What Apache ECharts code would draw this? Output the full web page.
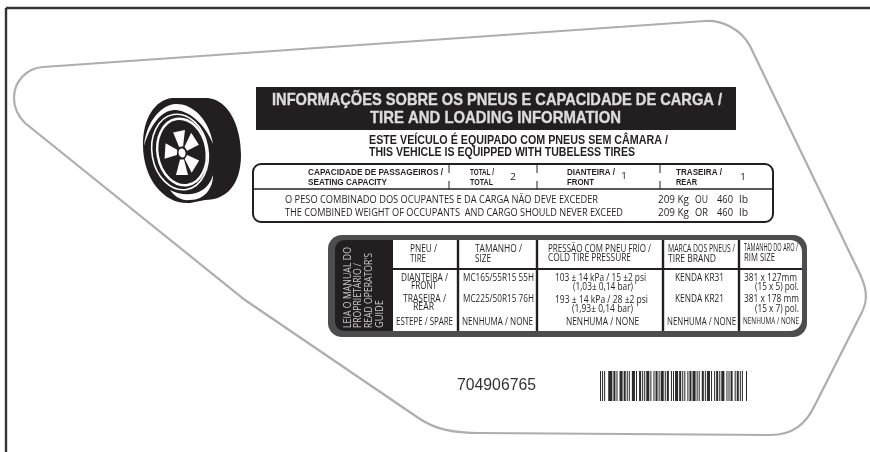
<!DOCTYPE html>
<html><head><meta charset="utf-8">
<style>html,body{margin:0;padding:0;background:#fff}#c{width:870px;height:452px}</style>
<script src="https://cdn.jsdelivr.net/npm/echarts@6/dist/echarts.min.js"></script>
</head><body><div id="c"></div>
<script>
// ---- label content ----
const titleLines = ['INFORMAÇÕES SOBRE OS PNEUS E CAPACIDADE DE CARGA /', 'TIRE AND LOADING INFORMATION'];
const subtitleLines = ['ESTE VEÍCULO É EQUIPADO COM PNEUS SEM CÂMARA /', 'THIS VEHICLE IS EQUIPPED WITH TUBELESS TIRES'];
const capacityHeads = ['CAPACIDADE DE PASSAGEIROS /', 'SEATING CAPACITY', 'TOTAL /', 'TOTAL', 'DIANTEIRA /', 'FRONT', 'TRASEIRA /', 'REAR'];
const capacityValues = ['2', '1', '1'];
const weightLines = ['O PESO COMBINADO DOS OCUPANTES E DA CARGA NÃO DEVE EXCEDER', 'THE COMBINED WEIGHT OF OCCUPANTS  AND CARGO SHOULD NEVER EXCEED'];
const weightKg = ['209 Kg', '209 Kg'];
const weightJoin = ['OU', 'OR'];
const weightLb = ['460', '460'];
const weightUnit = ['lb', 'lb'];
const sideLines = ['LEIA O MANUAL DO', 'PROPRIETÁRIO /', 'READ OPERATOR\'S', 'GUIDE'];
const tableHeads = ['PNEU /', 'TIRE', 'TAMANHO /', 'SIZE', 'PRESSÃO COM PNEU FRIO /', 'COLD TIRE PRESSURE', 'MARCA DOS PNEUS /', 'TIRE BRAND', 'TAMANHO DO ARO /', 'RIM SIZE'];
const tirePositions = ['DIANTEIRA /', 'FRONT', 'TRASEIRA /', 'REAR', 'ESTEPE / SPARE'];
const tireSizes = ['MC165/55R15 55H', 'MC225/50R15 76H', 'NENHUMA / NONE'];
const tirePressures = ['103 ± 14 kPa / 15 ±2 psi', '(1,03± 0,14 bar)', '193 ± 14 kPa / 28 ±2 psi', '(1,93± 0,14 bar)', 'NENHUMA / NONE'];
const tireBrands = ['KENDA KR31', 'KENDA KR21', 'NENHUMA / NONE'];
const rimSizes = ['381 x 127mm', '(15 x 5) pol.', '381 x 178 mm', '(15 x 7) pol.', 'NENHUMA / NONE'];
const partNumber = '704906765';
// bar, gap, bar, gap ... widths as read from the barcode
const barcodeRuns = [1,1,1,1,1,3,4,1,2,1,1,2,3,1,2,1,1,1,1,2,3,1,1,2,2,1,1,1,1,1,3,1,1,2,1,1,2,1,1,1,3,1,1,1,2,2,1,1,1,1,3,1,2,1,1,1,1,2,1,1,2,1,3,1,1,1,1,2,2,1,1,1,3,1,1,2,1,1,2,1,1,1,3,2,1,1,1,1,2,2,1,1,2,1,1,1,1,3,1];

// ---- drawing helpers ----
const INK = '#231f20', MEAS = document.createElement('canvas').getContext('2d');
const els = [];
function fit(str, x0, x1, y, font, fill, thicken) {
  MEAS.font = font;
  const w = MEAS.measureText(str).width, sx = (x1 - x0) / w;
  const style = {text:str, font:font, fill:fill||INK, textAlign:'left', textVerticalAlign:'middle', verticalAlign:'middle'};
  if (thicken) { style.stroke = fill||INK; style.lineWidth = thicken; }
  els.push({type:'text', x:x0, y:y, scaleX:sx, silent:true, style:style});
}
function rect(x,y,w,h,fill,r){ els.push({type:'rect',shape:{x,y,width:w,height:h,r:r||0},style:{fill:fill}}); }
function line(x1,y1,x2,y2,col,lw){ els.push({type:'line',shape:{x1,y1,x2,y2},style:{stroke:col||INK,lineWidth:lw||1}}); }
let pathCount = 0;
function path(d,style){
  const name = 'labelPath' + (pathCount++);
  echarts.graphic.registerShape(name, echarts.graphic.extendPath(d, {}));
  els.push({type:name,style:style});
}

// frame
line(6,8,870,8,'#333',2.4);
line(6,8,6,452,'#333',2.4);

// label outline
path('M43 67 L705 21 C722 20 741 29 750 46 L858 270 C866 286 869 298 862 312 L815 405 C806 424 793 435 770 435 L480 433 C455 433 435 430 417 417 L245 300 L25 123 C18 116 14 107 14 98 C14 81 27 68 43 67 Z',
  {fill:'none',stroke:'#aeaeb0',lineWidth:2.2});

// tyre
path('M172 98 L208 98 C228 100 241 125 241 155 C241 185 226 200 205 200 L190 203 C165 205 143 180 143 145 C143 118 155 100 172 98 Z',{fill:INK});
path('M144 146 C146 125 158 106 175 104 C194 103 210 122 213 144 C206 127 193 112 176 110 C162 109 150 125 144 146 Z',{fill:'#fff'});
path('M170 190 C185 198 207 196 213 175 C213 188 205 200 190 200 C182 201 175 197 170 190 Z',{fill:'#fff'});
function ellipse(cx,cy,rx,ry,rotDeg,style){ els.push({type:'ellipse',x:cx,y:cy,rotation:rotDeg*Math.PI/180,shape:{cx:0,cy:0,rx:rx,ry:ry},style:style}); }
ellipse(180,152,28,38,10,{fill:'none',stroke:'#fff',lineWidth:1.6});
ellipse(182,152,24.5,33.5,10,{fill:'none',stroke:'#fff',lineWidth:2.4});
ellipse(183,152,21,30,10,{fill:INK});
[100,40,-38,-90,175].forEach(function(a){
  const c=[182,153],t=a*Math.PI/180,f=function(r,o){const sy=1.3;return [c[0]+Math.cos(t)*r-Math.sin(t)*o, c[1]-(Math.sin(t)*r+Math.cos(t)*o)*sy];};
  const p=[f(5,-2),f(17,-6),f(17,6),f(5,2)];
  els.push({type:'polygon',shape:{points:p},style:{fill:'#fff'}});
});
ellipse(182,153,3.5,4.5,10,{fill:'#fff'});

// title block
rect(256,87,480,43,INK);
fit(titleLines[0],272,722,100,'bold 17px "Liberation Sans"','#dcdcdd',0.4);
fit(titleLines[1],370,621,118,'bold 17px "Liberation Sans"','#dcdcdd',0.4);
fit(subtitleLines[0],369,668,141,'bold 12.5px "Liberation Sans"');
fit(subtitleLines[1],369,635,153,'bold 12.5px "Liberation Sans"');

// capacity box
els.push({type:'rect',shape:{x:253,y:164,width:520,height:58,r:8},style:{fill:'none',stroke:INK,lineWidth:2}});
line(253,189,773,189,INK,1.5);
[449,537,660].forEach(function(x){ line(x,164,x,173,INK,1); line(x,181,x,189,INK,1); });
const H = 'bold 9.5px "Liberation Sans"', B = '10px "Open Sans"';
const capLayout = [[308,443,172],[308,387,182],[470,494,172],[470,493,182],[567,615,172],[567,594,182],[676,722,172],[676,697,182]];
capacityHeads.forEach(function(s,i){ const l=capLayout[i]; fit(s,l[0],l[1],l[2],H); });
[[510,516,177],[621,627,176],[740,746,177]].forEach(function(l,i){ fit(capacityValues[i],l[0],l[1],l[2],'9px "Open Sans"'); });
[200,213].forEach(function(y,i){
  fit(weightLines[i],285,i?623:598,y,B);
  fit(weightKg[i],658,689,y,B);
  fit(weightJoin[i],695,708,y,B);
  fit(weightLb[i],717,733,y,B);
  fit(weightUnit[i],739,748,y,B);
});

// tyre table
rect(328,235,479,102,'#4d4d4f',14);
path('M393 240 L345 240 C339 240 335 244 335 250 L335 321 C335 327 339 331 345 331 L393 331 Z',{fill:INK});
rect(393,240,409,91,'#fff');
path('M802 240 L790 240 C797 240 802 245 802 252 Z',{fill:'#4d4d4f'});
path('M802 331 L790 331 C797 331 802 326 802 319 Z',{fill:'#4d4d4f'});
line(393,269,802,269,INK,2);
[458,537,663,739].forEach(function(x){ line(x,240,x,331,INK,2.4); });
[[348,247],[358,263],[369,253],[380,300]].forEach(function(l,i){
  const sf='10.5px "Open Sans"';
  MEAS.font=sf;
  const len=328-l[1], sx=len/MEAS.measureText(sideLines[i]).width;
  els.push({type:'text',x:l[0],y:328,rotation:Math.PI/2,scaleX:sx,silent:true,
    style:{text:sideLines[i],font:sf,fill:'#c9c9cb',textAlign:'left',textVerticalAlign:'middle',verticalAlign:'middle'}});
});
const C = '10px "Open Sans"', CS='9.5px "Open Sans"';
const headLayout=[[410,437,249],[410,426,259],[475,522,249],[475,491,259],[548,651,249],[548,631,258],[668,735,249],[668,716,259],[744,798,248],[744,775,258]];
tableHeads.forEach(function(s,i){ const l=headLayout[i]; fit(s,l[0],l[1],l[2],C); });
const posLayout=[[401,448,278],[411,437,286],[403,446,299],[413,434,307],[396,453,322]];
tirePositions.forEach(function(s,i){ const l=posLayout[i]; fit(s,l[0],l[1],l[2],C); });
const sizeLayout=[[463,534,278],[463,534,299],[462,533,322]];
tireSizes.forEach(function(s,i){ const l=sizeLayout[i]; fit(s,l[0],l[1],l[2],C); });
const pressLayout=[[555,646,278],[573,633,287],[555,648,300],[572,633,309],[566,639,322]];
tirePressures.forEach(function(s,i){ const l=pressLayout[i]; fit(s,l[0],l[1],l[2],C); });
const brandLayout=[[675,724,278],[675,724,299],[667,736,322]];
tireBrands.forEach(function(s,i){ const l=brandLayout[i]; fit(s,l[0],l[1],l[2],C); });
const rimLayout=[[744,797,278],[755,799,287],[744,799,299],[755,799,309],[743,799,321]];
rimSizes.forEach(function(s,i){ const l=rimLayout[i]; fit(s,l[0],l[1],l[2],i==4?CS:C); });

// part number and barcode
fit(partNumber,457,536,386,'16px "Liberation Sans"','#333');
(function(){
  const total=barcodeRuns.reduce(function(a,b){return a+b;},0), k=147/total;
  let x=600;
  barcodeRuns.forEach(function(w,i){ if(i%2===0) rect(x,371,w*k,30,'#2b2b2b'); x+=w*k; });
})();

const chart = echarts.init(document.getElementById('c'),null,{renderer:'canvas'});
chart.setOption({animation:false,backgroundColor:'#fff',graphic:{elements:els}});
</script></body></html>
